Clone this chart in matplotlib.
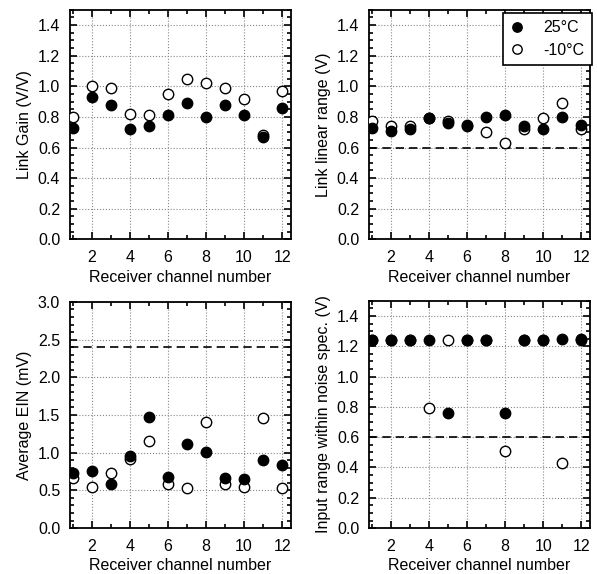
import matplotlib
matplotlib.use("Agg")
import matplotlib.pyplot as plt
from matplotlib.ticker import MultipleLocator

plt.rcParams['font.family'] = ['Liberation Sans', 'DejaVu Sans']
plt.rcParams['font.size'] = 11.5

# Receiver channels
ch = [1, 2, 3, 4, 5, 6, 7, 8, 9, 10, 11, 12]

# Link gain (V/V)
gain_25 = [0.73, 0.93, 0.88, 0.72, 0.74, 0.81, 0.89, 0.80, 0.88, 0.81, 0.67, 0.86]
gain_m10 = [0.80, 1.00, 0.99, 0.82, 0.81, 0.95, 1.05, 1.02, 0.99, 0.92, 0.68, 0.97]

# Link linear range (V)
lin_25 = [0.73, 0.71, 0.72, 0.79, 0.76, 0.75, 0.80, 0.81, 0.74, 0.72, 0.80, 0.75]
lin_m10 = [0.77, 0.74, 0.74, 0.79, 0.77, 0.74, 0.70, 0.63, 0.72, 0.79, 0.89, 0.72]
lin_spec = 0.6

# Average EIN (mV)
ein_25 = [0.73, 0.76, 0.58, 0.95, 1.48, 0.68, 1.12, 1.01, 0.66, 0.65, 0.90, 0.84]
ein_m10 = [0.67, 0.55, 0.73, 0.92, 1.15, 0.59, 0.53, 1.41, 0.59, 0.54, 1.46, 0.53]
ein_spec = 2.4

# Input range within noise spec (V)
inr_25 = [1.24, 1.24, 1.24, 1.24, 0.76, 1.24, 1.24, 0.76, 1.24, 1.24, 1.25, 1.25]
inr_m10 = [1.24, 1.24, 1.24, 0.79, 1.24, 1.24, 1.24, 0.51, 1.24, 1.24, 0.43, 1.24]
inr_spec = 0.6

fig = plt.figure(figsize=(5.97, 5.74), dpi=100)

pos = [
    [0.117, 0.583, 0.370, 0.400],
    [0.618, 0.583, 0.370, 0.400],
    [0.117, 0.080, 0.370, 0.394],
    [0.618, 0.080, 0.370, 0.396],
]
panels = [
    (gain_25, gain_m10, None, "Link Gain (V/V)", 1.5, 0.2, 0.05),
    (lin_25, lin_m10, lin_spec, "Link linear range (V)", 1.5, 0.2, 0.05),
    (ein_25, ein_m10, ein_spec, "Average EIN (mV)", 3.0, 0.5, 0.1),
    (inr_25, inr_m10, inr_spec, "Input range within noise spec. (V)", 1.5, 0.2, 0.05),
]

for i, (p, (y25, ym10, spec, ylab, ymax, major, minor)) in enumerate(zip(pos, panels)):
    ax = fig.add_axes(p)
    ax.plot(ch, ym10, 'o', mfc='white', mec='black', ms=7.5, mew=1, label='-10°C', zorder=3)
    ax.plot(ch, y25, 'o', mfc='black', mec='black', ms=7.5, mew=1, label='25°C', zorder=4)
    if spec is not None:
        ax.axhline(spec, color='black', ls=(0, (5, 3)), lw=1.2, zorder=2)
    ax.set_xlim(0.85, 12.45)
    ax.set_ylim(0, ymax)
    ax.xaxis.set_major_locator(MultipleLocator(2))
    ax.xaxis.set_minor_locator(MultipleLocator(1))
    ax.yaxis.set_major_locator(MultipleLocator(major))
    ax.yaxis.set_minor_locator(MultipleLocator(minor))
    ax.grid(True, which='major', ls=':', color='#888888', lw=0.8)
    ax.tick_params(which='both', direction='in', top=True, right=True, width=1.2)
    ax.tick_params(which='major', length=5, labelsize=11.5)
    ax.tick_params(axis='x', which='major', pad=8)
    ax.tick_params(axis='y', which='major', pad=7)
    ax.tick_params(which='minor', length=3)
    for s in ax.spines.values():
        s.set_linewidth(1.3)
    ax.set_xlabel("Receiver channel number", fontsize=11.5, labelpad=3)
    ax.set_ylabel(ylab, fontsize=11.5, labelpad=4)
    if i == 1:
        h, l = ax.get_legend_handles_labels()
        leg = ax.legend(h[::-1], l[::-1], loc='upper right', bbox_to_anchor=(1.01, 0.985),
                        fancybox=False, edgecolor='black', framealpha=1,
                        borderaxespad=0, handlelength=0.8, handletextpad=1.3,
                        labelspacing=0.45, borderpad=0.45, markerscale=0.9,
                        fontsize=11.5)
        leg.get_frame().set_linewidth(1.2)

fig.savefig("out.png", dpi=100)
